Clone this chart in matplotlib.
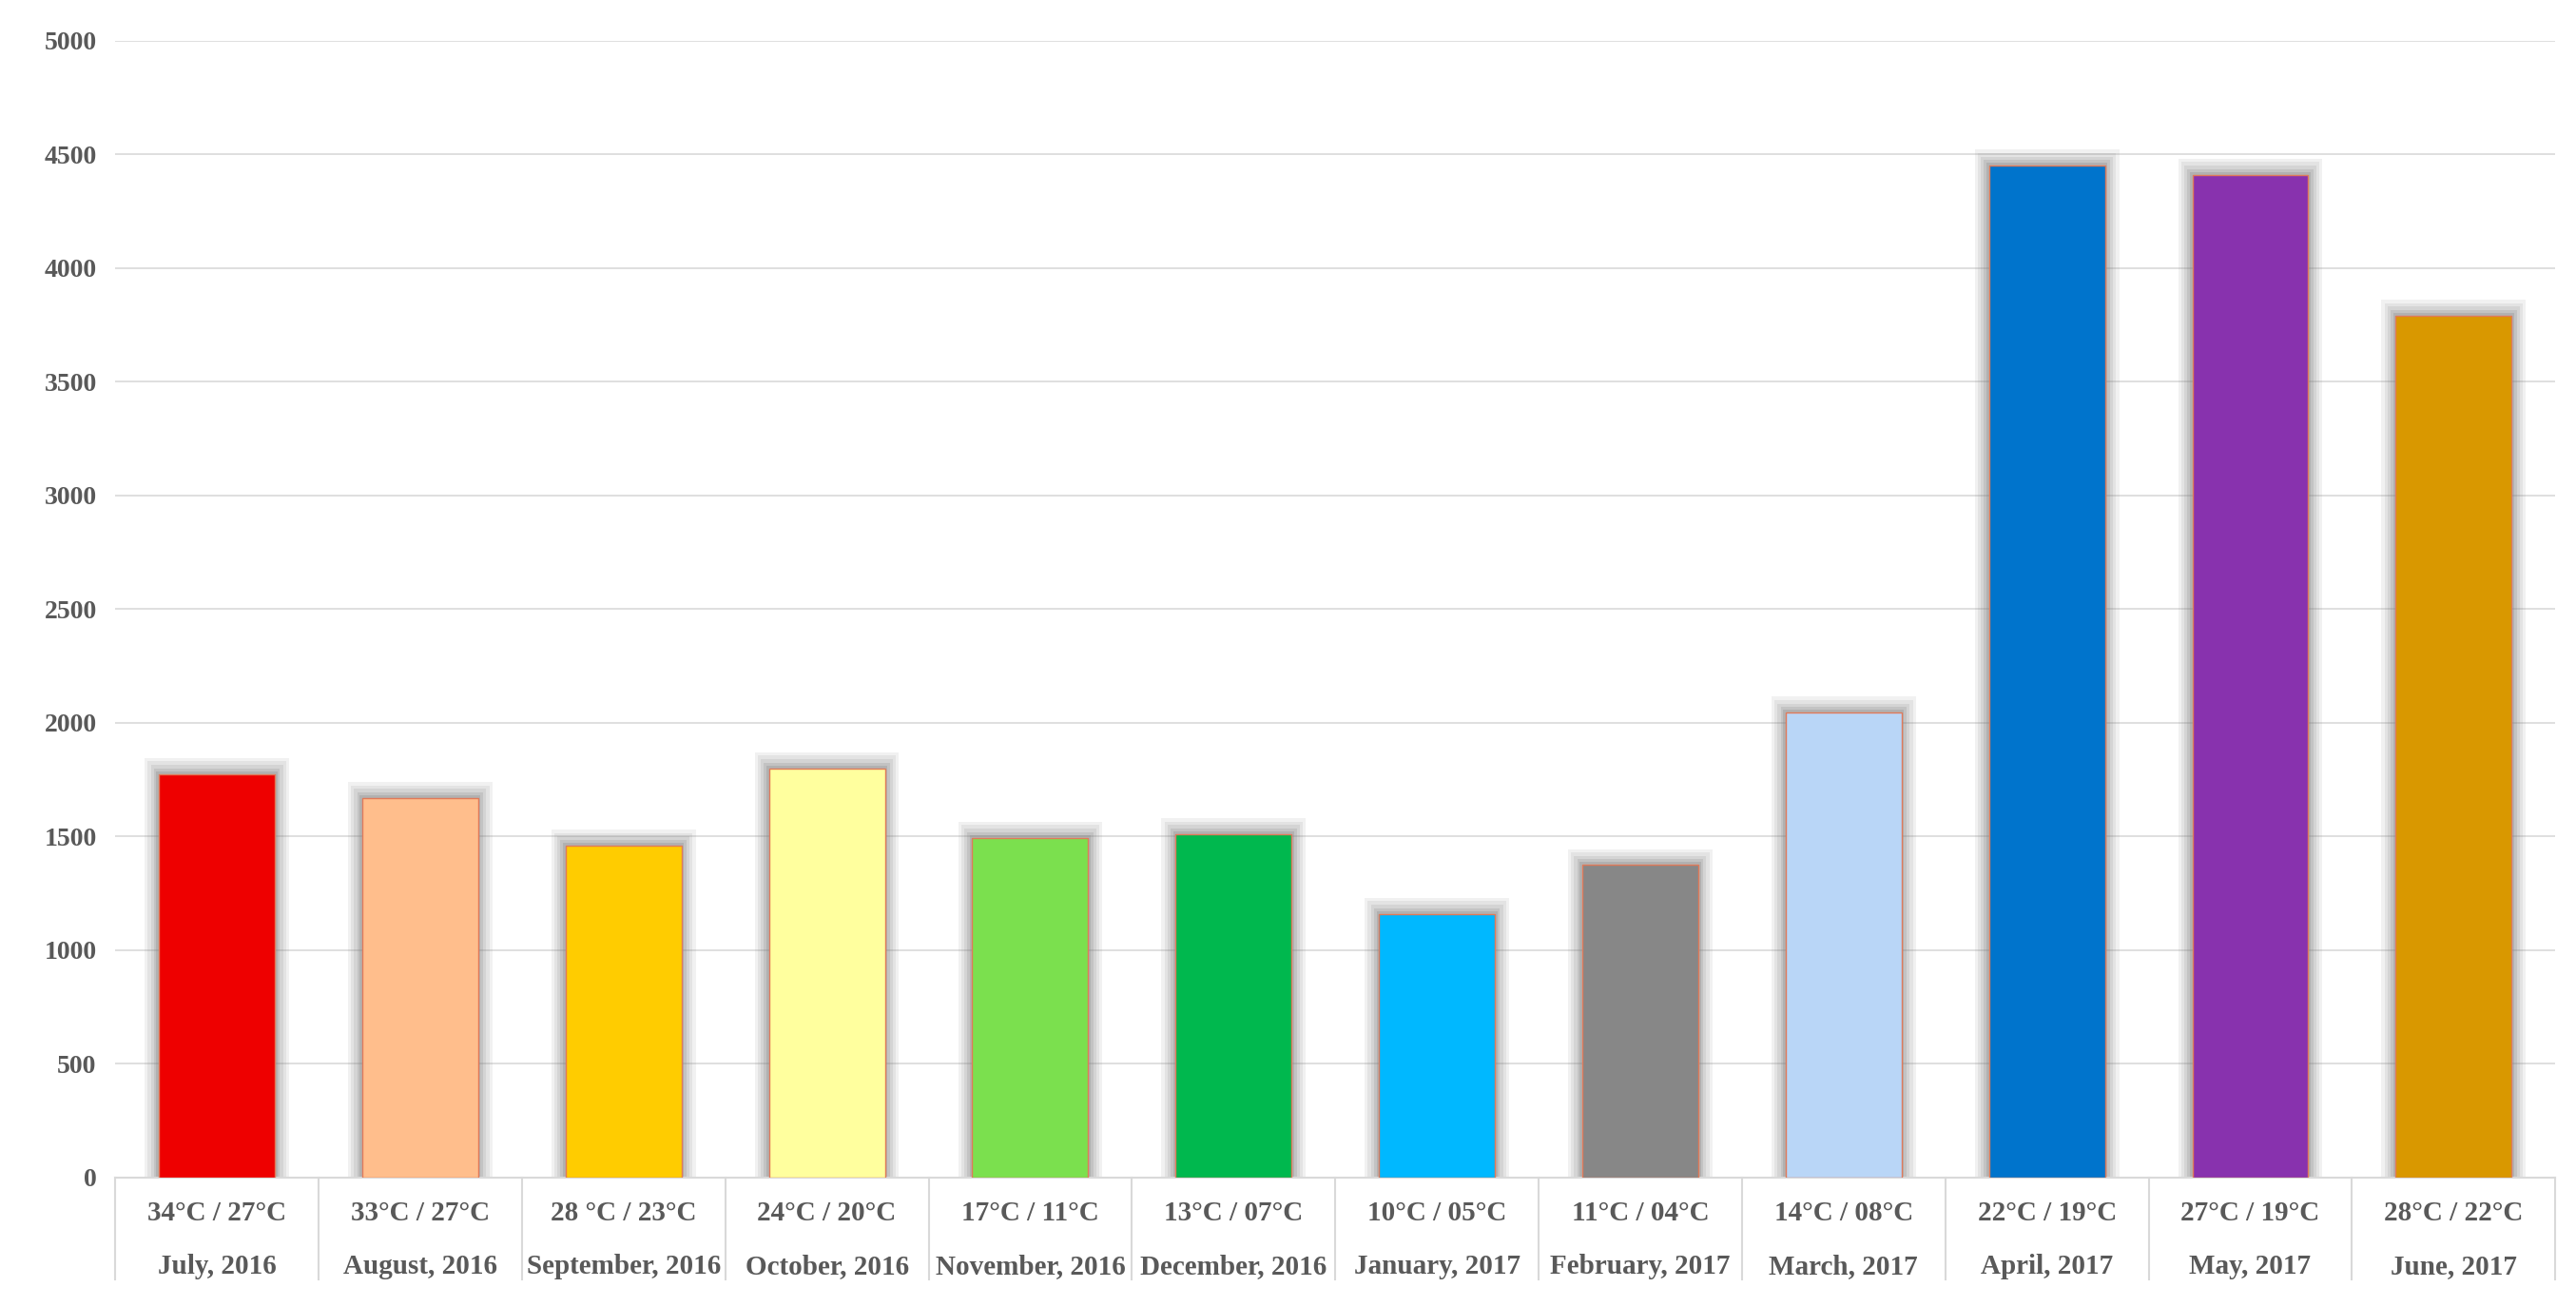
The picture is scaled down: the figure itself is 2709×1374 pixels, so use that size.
import matplotlib
matplotlib.use("Agg")
import matplotlib.pyplot as plt
from matplotlib.transforms import blended_transform_factory

months = ["July, 2016", "August, 2016", "September, 2016", "October, 2016", "November, 2016",
          "December, 2016", "January, 2017", "February, 2017", "March, 2017", "April, 2017",
          "May, 2017", "June, 2017"]
temps = ["34°C / 27°C", "33°C / 27°C", "28 °C / 23°C", "24°C / 20°C", "17°C / 11°C", "13°C / 07°C",
         "10°C / 05°C", "11°C / 04°C", "14°C / 08°C", "22°C / 19°C", "27°C / 19°C", "28°C / 22°C"]
values = [1775, 1670, 1460, 1800, 1495, 1510, 1160, 1375, 2045, 4450, 4410, 3790]
colors = ["#EE0000", "#FFBE8C", "#FFCC00", "#FFFF9E", "#7BE04E", "#00B84E", "#00B8FF",
          "#878787", "#B9D6F7", "#0074CC", "#8832AE", "#D99800"]
yticks = [0, 500, 1000, 1500, 2000, 2500, 3000, 3500, 4000, 4500, 5000]

fig = plt.figure(figsize=(27.09, 13.74), dpi=100)
ax = fig.add_axes([0.0447, 0.099, 0.9473, 0.870])
font = dict(family="Liberation Serif", weight="bold", color="#595959")
x = list(range(len(values)))
w = 0.57
# glow shadow
for k, a in [(0.14, 0.10), (0.11, 0.12), (0.08, 0.15), (0.05, 0.2), (0.025, 0.25)]:
    ax.bar(x, [v + k * 500 for v in values], width=w + k, color="#7f7f7f", alpha=a,
           linewidth=0, zorder=2)
ax.bar(x, values, width=w, color=colors, edgecolor="#E07A5A", linewidth=1, zorder=3)
ax.set_xlim(-0.5, len(values) - 0.5)
ax.set_ylim(0, 5000)
ax.set_yticks(yticks)
ax.set_yticklabels([str(t) for t in yticks], fontsize=20, **font)
ax.tick_params(axis="y", length=0, pad=14)
ax.tick_params(axis="x", length=0, labelbottom=False)
ax.yaxis.grid(True, color="#D9D9D9", linewidth=1.2, zorder=0)
for s in ["top", "right", "left"]:
    ax.spines[s].set_visible(False)
ax.spines["bottom"].set_color("#D9D9D9")
ax.spines["bottom"].set_linewidth(1.5)
ax.set_axisbelow(True)

trans = blended_transform_factory(ax.transData, ax.transAxes)
axh = 0.870 * 1374
for i in range(len(values)):
    ax.text(i, -38 / axh, temps[i], transform=trans, ha="center", va="center", fontsize=21, **font)
    ax.text(i, -94 / axh, months[i], transform=trans, ha="center", va="center", fontsize=21, **font)
for i in range(len(values) + 1):
    ax.plot([i - 0.5, i - 0.5], [0, -107 / axh], transform=trans, color="#D9D9D9",
            linewidth=1.5, clip_on=False)

fig.savefig("out.png", dpi=100, facecolor="white")
